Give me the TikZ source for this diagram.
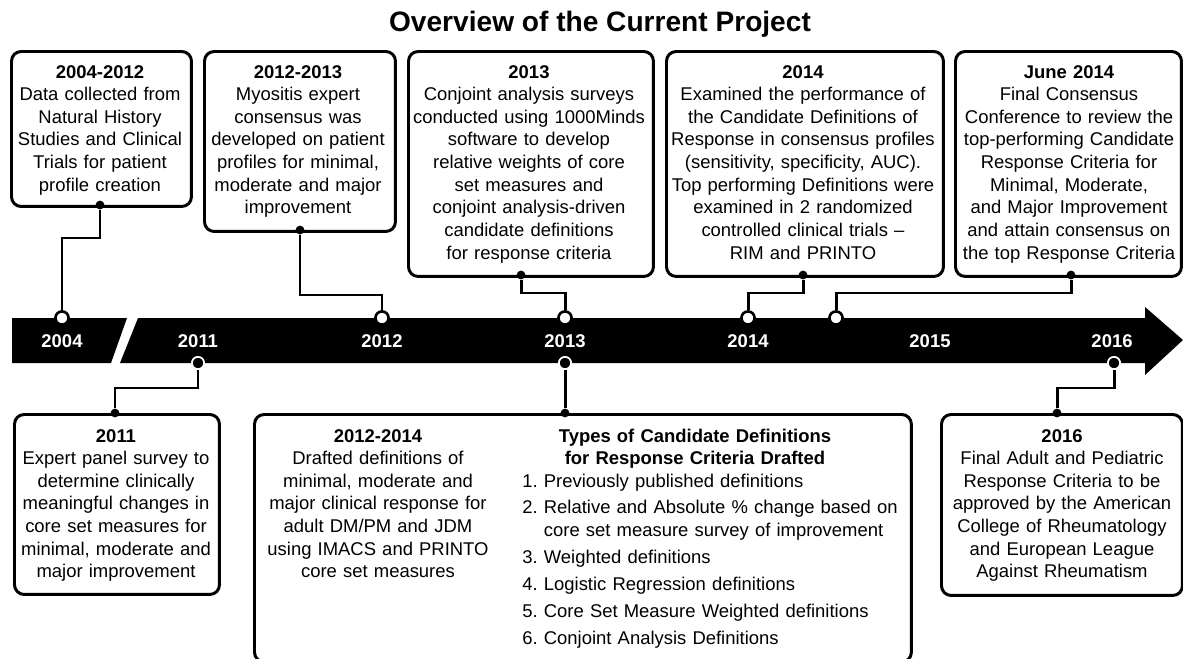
\documentclass[tikz,border=0pt]{standalone}
\usepackage{fontspec}
\setmainfont{Liberation Sans}
\usetikzlibrary{positioning}
\frenchspacing

\begin{document}
\begin{tikzpicture}[x=0.02cm, y=-0.02cm,
		box/.style={draw, line width=1.7pt, rounded corners=5.5pt, inner sep=0pt, anchor=north west},
		txt/.style={anchor=base, align=center, inner sep=0pt, font=\fontsize{10.5}{12.9}\selectfont},
		year/.style={text=white, inner sep=0pt, font=\fontsize{10.5}{12.9}\selectfont\bfseries},
		link/.style={line width=1.7pt},
		dot/.style={circle, fill=black, inner sep=0pt, minimum size=5pt},
		topring/.style={circle, fill=white, draw=black, line width=1.5pt, inner sep=0pt, minimum size=7.5pt},
		botring/.style={circle, fill=black, draw=white, line width=1pt, inner sep=0pt, minimum size=7pt}]
	\useasboundingbox (0,0) rectangle (1183,659);

	\node[font=\fontsize{16}{18}\selectfont\bfseries] (title) at (600,24) {Overview of the Current Project};

	% timeline bar
	\fill (12,318) -- (127,318) -- (111,363) -- (12,363) -- cycle;
	\fill (138,318) -- (1145,318) -- (1145,307) -- (1183,340) -- (1145,375) -- (1145,363) -- (120,363) -- cycle;
	\node[year] (y2004) at (62,341) {2004};
	\node[year] (y2011) at (198,341) {2011};
	\node[year] (y2012) at (382,341) {2012};
	\node[year] (y2013) at (565,341) {2013};
	\node[year] (y2014) at (748,341) {2014};
	\node[year] (y2015) at (930,341) {2015};
	\node[year] (y2016) at (1112,341) {2016};

	% boxes above
	\node[box, minimum width=3.6cm, minimum height=3.1cm] (b1) at (10,50) {};
	\node[box, minimum width=3.82cm, minimum height=3.6cm] (b2) at (203,50) {};
	\node[box, minimum width=4.9cm, minimum height=4.5cm] (b3) at (407,50) {};
	\node[box, minimum width=5.54cm, minimum height=4.5cm] (b4) at (665,50) {};
	\node[box, minimum width=4.52cm, minimum height=4.5cm] (b5) at (954,50) {};
	\node[txt, text width=3.45cm] (t1) at (100,78) {\textbf{2004-2012}\\Data collected from\\Natural History\\Studies and Clinical\\Trials for patient\\profile creation};
	\node[txt, text width=3.65cm] (t2) at (298,78) {\textbf{2012-2013}\\Myositis expert\\consensus was\\developed on patient\\profiles for minimal,\\moderate and major\\improvement};
	\node[txt, text width=4.75cm] (t3) at (529,78) {\textbf{2013}\\Conjoint analysis surveys\\conducted using 1000Minds\\software to develop\\relative weights of core\\set measures and\\conjoint analysis-driven\\candidate definitions\\for response criteria};
	\node[txt, text width=5.4cm] (t4) at (803,78) {\textbf{2014}\\Examined the performance of\\the Candidate Definitions of\\Response in consensus profiles\\(sensitivity, specificity, AUC).\\Top performing Definitions were\\examined in 2 randomized\\controlled clinical trials –\\RIM and PRINTO};
	\node[txt, text width=4.4cm] (t5) at (1069,78) {\textbf{June 2014}\\Final Consensus\\Conference to review the\\top-performing Candidate\\Response Criteria for\\Minimal, Moderate,\\and Major Improvement\\and attain consensus on\\the top Response Criteria};

	% boxes below
	\node[box, minimum width=4.1cm, minimum height=3.6cm] (b6) at (13,413) {};
	\node[box, minimum width=13.14cm, minimum height=4.95cm] (b7) at (253,413) {};
	\node[box, minimum width=4.82cm, minimum height=3.62cm] (b8) at (940,413) {};
	\node[txt, text width=3.95cm] (t6) at (116,442) {\textbf{2011}\\Expert panel survey to\\determine clinically\\meaningful changes in\\core set measures for\\minimal, moderate and\\major improvement};
	\node[txt, text width=4.6cm] (t7) at (378,442) {\textbf{2012-2014}\\Drafted definitions of\\minimal, moderate and\\major clinical response for\\adult DM/PM and JDM\\using IMACS and PRINTO\\core set measures};
	\node[txt, text width=6cm, font=\fontsize{10.5}{12.9}\selectfont\bfseries] (types) at (695,442) {Types of Candidate Definitions\\for Response Criteria Drafted};
	\node[txt, anchor=base west, align=left, text width=7.6cm] (list) at (522,487) {1. Previously published definitions\\[2.4pt]
		2. Relative and Absolute \% change based on\\
		\phantom{2.} core set measure survey of improvement\\[2.4pt]
		3. Weighted definitions\\[2.4pt]
		4. Logistic Regression definitions\\[2.4pt]
		5. Core Set Measure Weighted definitions\\[2.4pt]
		6. Conjoint Analysis Definitions};
	\node[txt, text width=4.65cm] (t8) at (1062,442) {\textbf{2016}\\Final Adult and Pediatric\\Response Criteria to be\\approved by the American\\College of Rheumatology\\and European League\\Against Rheumatism};

	% dots and rings
	\node[dot] (d1) at (100,205) {};
	\node[dot] (d2) at (300,230) {};
	\node[dot] (d3) at (521,275) {};
	\node[dot] (d4) at (803,275) {};
	\node[dot] (d5) at (1071,275) {};
	\node[dot] (d6) at (115,413) {};
	\node[dot] (d7) at (565,413) {};
	\node[dot] (d8) at (1057,413) {};
	\node[topring] (r2004) at (62,318) {};
	\node[topring] (r2012) at (382,318) {};
	\node[topring] (r2013a) at (565,318) {};
	\node[topring] (r2014) at (748,318) {};
	\node[topring] (rjune) at (836,318) {};
	\node[botring] (r2011) at (198,363) {};
	\node[botring] (r2013b) at (565,363) {};
	\node[botring] (r2016) at (1114,363) {};

	% connectors
	\draw[link] (d1) -- ++(0,33) -| (r2004);
	\draw[link] (d2) -- ++(0,65) -| (r2012);
	\draw[link] (d3) -- ++(0,18) -| (r2013a);
	\draw[link] (d4) -- ++(0,18) -| (r2014);
	\draw[link] (d5) -- ++(0,18) -| (rjune);
	\draw[link] (r2011) -- ++(0,25) -| (d6);
	\draw[link] (r2013b) -- (d7);
	\draw[link] (r2016) -- ++(0,25) -| (d8);
\end{tikzpicture}
\end{document}
